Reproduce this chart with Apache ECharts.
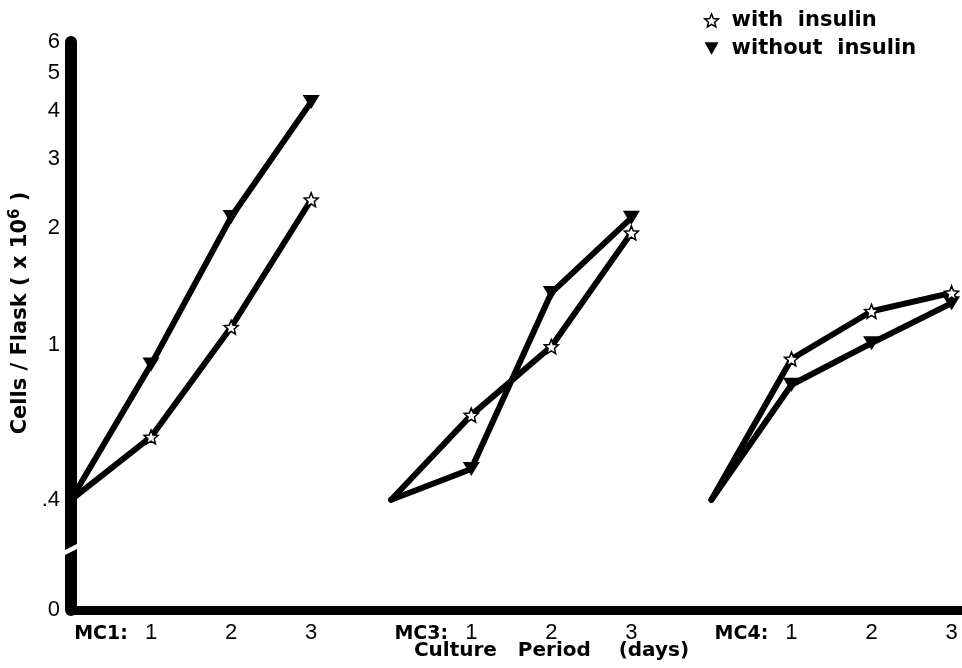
<!DOCTYPE html>
<html>
<head>
<meta charset="utf-8">
<script src="https://cdn.jsdelivr.net/npm/echarts@6/dist/echarts.min.js"></script>
<style>
html,body{margin:0;padding:0;background:#fff;}
#chart{width:962px;height:668px;}
</style>
</head>
<body>
<div id="chart"></div>
<script>
// ---- data ----
const groups = ['MC1', 'MC3', 'MC4'];
const days = [0, 1, 2, 3];
const xTickLabels = ['MC1:', '1', '2', '3', 'MC3:', '1', '2', '3', 'MC4:', '1', '2', '3'];
const yTickValues = [0.4, 1, 2, 3, 4, 5, 6];
const yTopValue = 6;
const yZeroValue = 0.2084;   // axis position labelled "0" below the break
const yBreakValue = 0.3;     // where the axis break is drawn

const mc1With    = [0.4, 0.58, 1.11, 2.36];
const mc1Without = [0.4, 0.89, 2.13, 4.21];
const mc3With    = [0.4, 0.66, 0.99, 1.94];
const mc3Without = [0.4, 0.48, 1.36, 2.12];
const mc4With    = [0.4, 0.92, 1.22, 1.36];
const mc4Without = [0.4, 0.79, 1.01, 1.28];

const withSets = [mc1With, mc3With, mc4With];
const withoutSets = [mc1Without, mc3Without, mc4Without];

// ---- styles ----
const starPath = 'path://M10,0L12.6,6.4L19.5,6.9L14.3,11.4L15.9,18.1L10,14.5L4.1,18.1L5.7,11.4L0.5,6.9L7.4,6.4Z';
const triDownPath = 'path://M0,0L10,0L5,9Z';
const slotsPerGroup = days.length;

function buildData(vals, gi) {
  return vals.map((v, d) => {
    const x = gi * slotsPerGroup + days[d];
    return d === 0 ? { value: [x, v], symbol: 'none' } : [x, v];
  });
}

const series = [];
groups.forEach((g, gi) => {
  series.push({
    name: 'without insulin',
    type: 'line',
    data: buildData(withoutSets[gi], gi),
    symbol: 'triangle',
    symbolRotate: 180,
    symbolSize: [17, 14],
    lineStyle: { color: '#000', width: 6, cap: 'round', join: 'round' },
    itemStyle: { color: '#000' },
    emphasis: { disabled: true },
    z: 3
  });
  series.push({
    name: 'with insulin',
    type: 'line',
    data: buildData(withSets[gi], gi),
    symbol: starPath,
    symbolSize: 14,
    lineStyle: { color: '#000', width: 6, cap: 'round', join: 'round' },
    itemStyle: { color: '#fff', borderColor: '#000', borderWidth: 1.5 },
    emphasis: { disabled: true },
    z: 4
  });
});

const chart = echarts.init(document.getElementById('chart'), null, { renderer: 'canvas' });

const option = {
  animation: false,
  backgroundColor: '#fff',
  grid: { left: 71, right: 0, top: 42, bottom: 58, containLabel: false, outerBoundsMode: 'none' },
  legend: {
    orient: 'vertical',
    left: 699,
    top: 5,
    itemWidth: 14,
    itemHeight: 13,
    itemGap: 7,
    selectedMode: false,
    textStyle: { fontFamily: 'DejaVu Sans', fontWeight: 'bold', fontSize: 21, color: '#000', padding: [0, 0, 0, 8] },
    formatter: function (name) { return name.replace(' ', '  '); },
    data: [
      { name: 'with insulin', icon: starPath, itemStyle: { color: '#fff', borderColor: '#000', borderWidth: 1.5 } },
      { name: 'without insulin', icon: triDownPath, itemStyle: { color: '#000', borderWidth: 0 } }
    ]
  },
  xAxis: {
    type: 'value',
    min: 0,
    max: 11.13,
    interval: 1,
    name: 'Culture   Period    (days)',
    nameLocation: 'middle',
    nameGap: 31,
    nameMoveOverlap: false,
    nameTextStyle: { fontFamily: 'DejaVu Sans', fontWeight: 'bold', fontSize: 20, color: '#000', padding: [0, 0, 0, 70], verticalAlign: 'top' },
    axisLine: { show: true, onZero: false, lineStyle: { color: '#000', width: 9 } },
    axisTick: { show: false },
    splitLine: { show: false },
    axisLabel: {
      margin: 12,
      fontFamily: 'Liberation Sans',
      fontSize: 22,
      color: '#000',
      formatter: function (v) {
        const lbl = xTickLabels[v];
        if (lbl === undefined) return '';
        if (lbl.indexOf('MC') === 0) return '{mc|' + lbl + '}';
        return lbl;
      },
      rich: {
        mc: { fontFamily: 'DejaVu Sans', fontWeight: 'bold', fontSize: 19, color: '#000', padding: [3, 0, 0, 60] }
      }
    }
  },
  yAxis: [
    {
      type: 'log',
      logBase: 10,
      min: yZeroValue,
      max: yTopValue,
      name: 'Cells / Flask ( x 10{sup|6} )',
      nameLocation: 'middle',
      nameGap: 38,
      nameMoveOverlap: false,
      nameTextStyle: {
        fontFamily: 'DejaVu Sans', fontWeight: 'bold', fontSize: 21, color: '#000',
        padding: [0, 0, 0, 26],
        rich: { sup: { fontFamily: 'DejaVu Sans', fontWeight: 'bold', fontSize: 15, color: '#000', verticalAlign: 'bottom', padding: [0, 0, 10, 0] } }
      },
      axisLine: { show: true, lineStyle: { color: '#000', width: 12 } },
      axisTick: { show: false },
      axisLabel: { show: false },
      splitLine: { show: false }
    },
    {
      type: 'value',
      min: Math.log10(yZeroValue),
      max: Math.log10(yTopValue),
      position: 'left',
      axisLine: { show: false },
      axisTick: { show: false },
      splitLine: { show: false },
      axisLabel: {
        margin: 11,
        fontFamily: 'Liberation Sans',
        fontSize: 22,
        color: '#000',
        customValues: [Math.log10(yZeroValue)].concat(yTickValues.map(v => Math.log10(v))),
        formatter: function (v) {
          const real = Math.pow(10, v);
          if (real < 0.3) return '0';
          const r = Math.round(real * 10) / 10;
          return r < 1 ? String(r).replace(/^0/, '') : String(Math.round(r));
        }
      }
    }
  ],
  series: series
};

chart.setOption(option);

// axis break mark on the y axis line
const bx = chart.convertToPixel({ xAxisIndex: 0 }, 0);
const by = chart.convertToPixel({ yAxisIndex: 0 }, yBreakValue);
chart.setOption({
  graphic: [{
    type: 'polygon',
    z: 100,
    shape: { points: [[bx - 9, by + 3], [bx + 9, by - 6], [bx + 9, by - 1], [bx - 9, by + 8]] },
    style: { fill: '#fff' }
  }]
});
</script>
</body>
</html>
